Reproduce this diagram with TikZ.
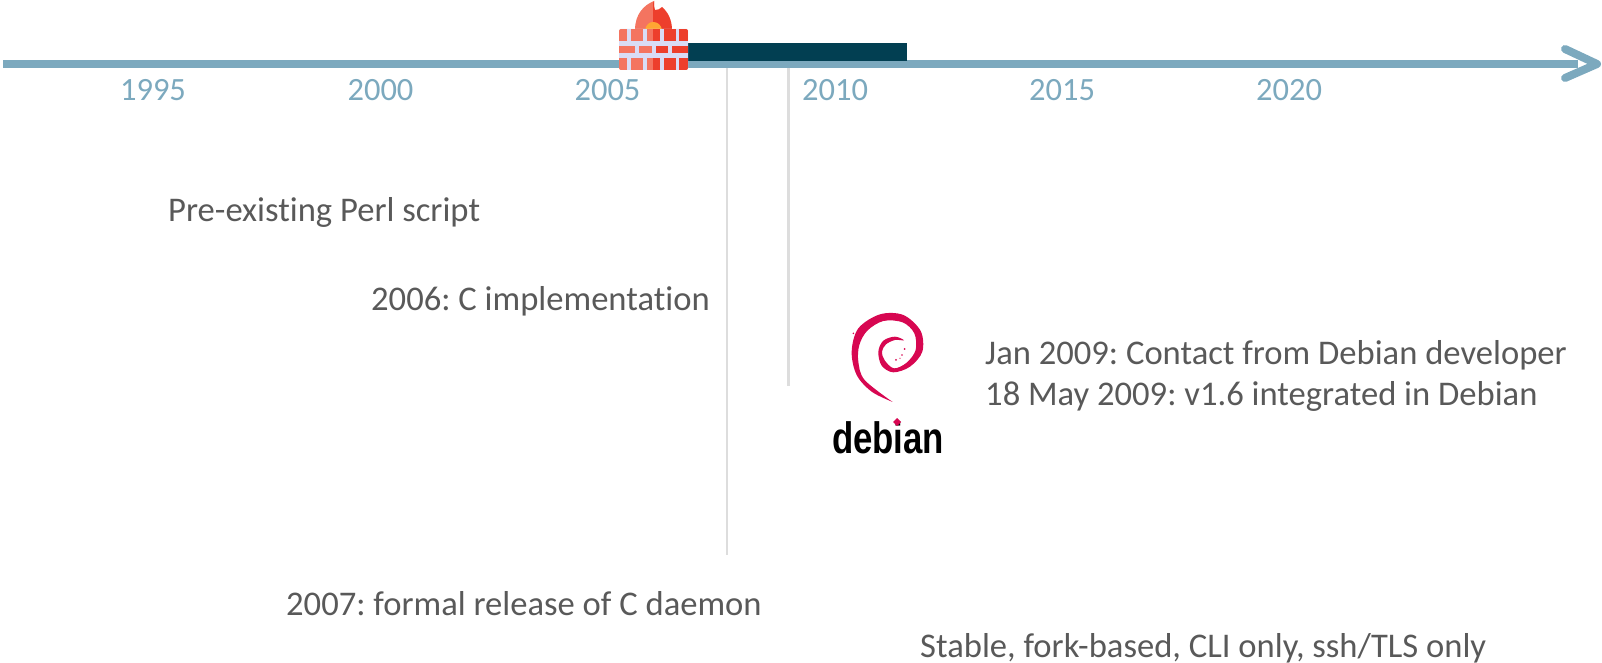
\documentclass[tikz,border=0pt]{standalone}
\usepackage{fontspec}
\setmainfont{Carlito}[Ligatures={NoCommon}]
\newfontfamily\logofont{Liberation Sans}
\definecolor{axisblue}{HTML}{7CA9BE}
\definecolor{darkteal}{HTML}{023F52}
\definecolor{bodygrey}{HTML}{595959}
\definecolor{guide}{HTML}{DDDDDD}
\definecolor{debred}{HTML}{D70751}
\definecolor{brickL}{HTML}{F47460}
\definecolor{brickR}{HTML}{ED3F2C}
\definecolor{mortar}{HTML}{D9DCF5}
\definecolor{flameO}{HTML}{FFA733}
\tikzset{
  yearlabel/.style={anchor=base,inner sep=0pt,text=axisblue,font=\fontsize{32.5}{36}\selectfont},
  bodylabel/.style={anchor=base west,inner sep=0pt,text=bodygrey,font=\fontsize{34.6}{38}\selectfont\frenchspacing},
  guideline/.style={draw=guide,line width=2.5pt},
  axisline/.style={draw=axisblue,line width=8pt}
}
\begin{document}
\begin{tikzpicture}[x=1pt,y=-1pt]
\useasboundingbox (0,0) rectangle (1602,663);
% guides
\coordinate (g1a) at (727,68); \coordinate (g1b) at (727,555);
\coordinate (g2a) at (788.5,68); \coordinate (g2b) at (788.5,386);
\draw[guideline] (g1a) -- (g1b);
\draw[guideline] (g2a) -- (g2b);
% axis
\coordinate (axs) at (3,64); \coordinate (axe) at (1578,64);
\draw[axisline] (axs) -- (axe);
\draw[axisline,line cap=round,line join=round] (1565,49) -- (1597,64) -- (1565,78);
% period bar
\fill[darkteal] (688,43) rectangle (907,61);
% years
\node[yearlabel] (y1995) at (153,101) {1995};
\node[yearlabel] (y2000) at (380.5,101) {2000};
\node[yearlabel] (y2005) at (607.5,101) {2005};
\node[yearlabel] (y2010) at (835,101) {2010};
\node[yearlabel] (y2015) at (1062,101) {2015};
\node[yearlabel] (y2020) at (1289,101) {2020};
% body
\node[bodylabel] (perl) at (168,221.5) {Pre-existing Perl script};
\node[bodylabel] (cimpl) at (371,310) {2006: C implementation};
\node[bodylabel] (crel) at (286,615.5) {2007: formal release of C daemon};
\node[bodylabel] (jan) at (985,364) {Jan 2009: Contact from Debian developer};
\node[bodylabel] (may) at (985,405.5) {18 May 2009: v1.6 integrated in Debian};
\node[bodylabel] (stable) at (920,657) {Stable, fork-based, CLI only, ssh/TLS only};
% firewall flame
\fill[brickL] (635,30) .. controls (635,14) and (644,5) .. (654,1) .. controls (654,4) and (654,8) .. (655,10) -- (653,30) -- cycle;
\fill[brickR] (653,30) -- (653,3) .. controls (653.5,2.5) and (654,2) .. (654,1) .. controls (654,4) and (654,8) .. (655,10) .. controls (658,10) and (660,9) .. (662,7) .. controls (668,12) and (672,20) .. (672,30) -- cycle;
\fill[flameO] (645,30) .. controls (646,25) and (649,22) .. (653,22) .. controls (658,22) and (661,25) .. (662,30) -- cycle;
% firewall wall
\fill[mortar,rounded corners=1.5pt] (619,29) rectangle (688,70);
\begin{scope}
\clip[rounded corners=2pt] (619,29) rectangle (688,70);
\foreach \a/\b/\c in {619/627/brickL,631/643/brickL,647/653/brickL,653/660/brickR,664/676/brickR,679/688/brickR}{
  \fill[\c] (\a,29) rectangle (\b,41);
  \fill[\c] (\a,58) rectangle (\b,70);
}
\foreach \a/\b/\c in {619/635/brickL,639/652/brickL,656/668/brickR,672/688/brickR}{
  \fill[\c] (\a,46) rectangle (\b,53.5);
}
\end{scope}
% debian swirl
\begin{scope}[shift={(800,295)},x=0.3333pt,y=-0.3333pt]
\fill[debred] plot[smooth,tension=0.55] coordinates {
 (278,321) (215,290) (170,240) (155,170) (175,100) (240,58) (310,60) (362,108)
 (367,170) (330,215) (280,232) (245,212) (235,170) (250,137) (285,125) (312,136)
 (285,135) (258,148) (246,170) (254,196) (282,220) (320,203) (347,165) (343,115)
 (308,82) (250,78) (202,107) (178,150) (175,200) (194,255) (278,321)};
\fill[debred] (314,162) circle (3); \fill[debred] (306,180) circle (2.5);
\fill[debred] (288,195) circle (3); \fill[debred] (300,190) circle (2);
\fill[debred] (160,115) circle (2.5); \fill[debred] (358,125) circle (2.5);
\end{scope}
% debian word
\node[anchor=base west,inner sep=0pt,text=black,xscale=0.79] (debword) at (832,453)
  {\fontsize{44}{44}\selectfont\logofont\bfseries debian};
\fill[debred] (897,418) -- (901,422) -- (897,426) -- (893,422) -- cycle;
\end{tikzpicture}
\end{document}
